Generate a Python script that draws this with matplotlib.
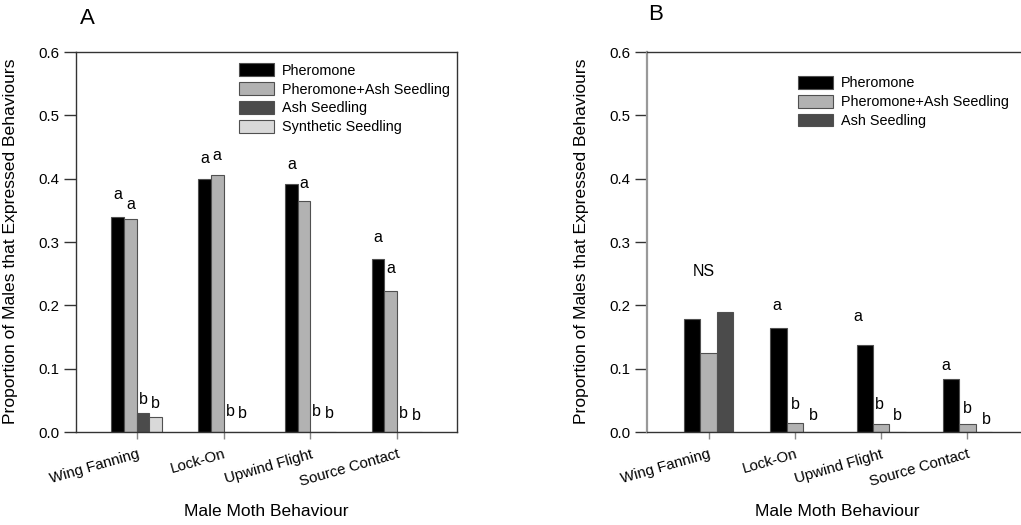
import numpy as np
import matplotlib
matplotlib.use("Agg")
import matplotlib.pyplot as plt
from matplotlib.patches import Patch

plt.rcParams['font.family'] = ['Liberation Sans', 'DejaVu Sans']

# ---- data ----
behaviours = ["Wing Fanning", "Lock-On", "Upwind Flight", "Source Contact"]

# Panel A: proportion of males expressing each behaviour
a_pheromone = [0.340, 0.400, 0.392, 0.273]
a_pher_ash = [0.336, 0.406, 0.364, 0.222]
a_ash = [0.030, 0.0, 0.0, 0.0]
a_synthetic = [0.023, 0.0, 0.0, 0.0]
a_letters = [["a", "a", "b", "b"],
             ["a", "a", "b", "b"],
             ["a", "a", "b", "b"],
             ["a", "a", "b", "b"]]

# Panel B
b_pheromone = [0.178, 0.164, 0.137, 0.083]
b_pher_ash = [0.124, 0.014, 0.013, 0.013]
b_ash = [0.189, 0.0, 0.0, 0.0]
b_letters = [[None, None, None],
             ["a", "b", "b"],
             ["a", "b", "b"],
             ["a", "b", "b"]]
b_group_note = "NS"

series_names = ["Pheromone", "Pheromone+Ash Seedling", "Ash Seedling", "Synthetic Seedling"]
yticks = [0.0, 0.1, 0.2, 0.3, 0.4, 0.5, 0.6]

# ---- styling / layout ----
fills = ["#000000", "#b2b2b2", "#4b4b4b", "#d9d9d9"]
edge = "#505050"
W, H = 1021, 525
# vertical gap (pixels) between each bar top and its letter
lift_a = [[22, 15, 13, 14], [20, 19, 20, 19], [19, 18, 20, 19], [22, 23, 19, 17]]
lift_b = [[0, 0, 0], [23, 19, 17], [29, 19, 16], [14, 15, 13]]
shift_b = [[0, 0, 0], [-2, 0, 2], [-7, -2, 0], [-5, 0, 3]]

fig = plt.figure(figsize=(W / 100, H / 100), dpi=100)


def px_box(left, right, top, bottom):
    return [left / W, 1 - bottom / H, (right - left) / W, (bottom - top) / H]


axA = fig.add_axes(px_box(76, 457, 52, 432))
axB = fig.add_axes(px_box(647, 1027, 52, 432))

x = np.arange(len(behaviours))


def style_axes(ax, xlim, left_spine_color, left_lw):
    ax.set_xlim(*xlim)
    ax.set_ylim(0, 0.6)
    ax.set_yticks(yticks)
    ax.set_yticklabels([f"{v:.1f}" for v in yticks], fontsize=10.8)
    ax.set_xticks(x)
    ax.set_xticklabels(behaviours, fontsize=10.8, rotation=16, ha="right",
                       rotation_mode="anchor")
    ax.tick_params(axis="x", length=5, width=1, color="#888888", pad=6)
    ax.tick_params(axis="y", length=9, width=1, color="#333333", pad=3)
    for s in ["top", "right", "bottom"]:
        ax.spines[s].set_color("#333333")
        ax.spines[s].set_linewidth(1.0)
    ax.spines["left"].set_color(left_spine_color)
    ax.spines["left"].set_linewidth(left_lw)
    ax.set_xlabel("Male Moth Behaviour", fontsize=12.5)
    ax.xaxis.set_label_coords(0.5, -0.19)
    ax.set_ylabel("Proportion of Males that Expressed Behaviours", fontsize=12.6)


def letter(ax, xv, yv, txt, lift, dx=0):
    ax.annotate(txt, (xv, yv), xytext=(dx, lift), textcoords="offset pixels",
                ha="center", va="center", fontsize=11.5)


legend_kw = dict(loc="upper left", frameon=False, fontsize=10.4,
                 handlelength=2.4, handleheight=1.0, handletextpad=0.55,
                 labelspacing=0.3, borderaxespad=0)

# ---- Panel A ----
wA = 0.146
seriesA = [a_pheromone, a_pher_ash, a_ash, a_synthetic]
for i, vals in enumerate(seriesA):
    pos = x + (i - 1.5) * wA
    axA.bar(pos, vals, width=wA, color=fills[i], edgecolor=edge, linewidth=0.8)
    for g in range(len(behaviours)):
        letter(axA, pos[g], vals[g], a_letters[g][i], lift_a[g][i])
style_axes(axA, (-0.70, 3.69), "#333333", 1.0)
axA.yaxis.set_label_coords(-0.152, 0.503)
axA.legend(handles=[Patch(facecolor=fills[i], edgecolor=edge, linewidth=0.8, label=series_names[i])
                    for i in range(4)],
           bbox_to_anchor=(0.413, 0.985), **legend_kw)

# ---- Panel B ----
wB = 0.19
seriesB = [b_pheromone, b_pher_ash, b_ash]
for i, vals in enumerate(seriesB):
    pos = x + (i - 1) * wB
    axB.bar(pos, vals, width=wB, color=fills[i], edgecolor=edge, linewidth=0.8)
    for g in range(len(behaviours)):
        if b_letters[g][i] is not None:
            letter(axB, pos[g], vals[g], b_letters[g][i], lift_b[g][i], shift_b[g][i])
letter(axB, x[0], max(b_pheromone[0], b_pher_ash[0], b_ash[0]), b_group_note, 41, -5)
style_axes(axB, (-0.714, 3.69), "#999999", 1.6)
axB.yaxis.set_label_coords(-0.153, 0.503)
axB.legend(handles=[Patch(facecolor=fills[i], edgecolor=edge, linewidth=0.8, label=series_names[i])
                    for i in range(3)],
           bbox_to_anchor=(0.382, 0.952), **legend_kw)

fig.text(87 / W, 1 - 18 / H, "A", fontsize=16, ha="center", va="center")
fig.text(656 / W, 1 - 15 / H, "B", fontsize=16, ha="center", va="center")

fig.savefig("out.png", dpi=100, facecolor="white")
